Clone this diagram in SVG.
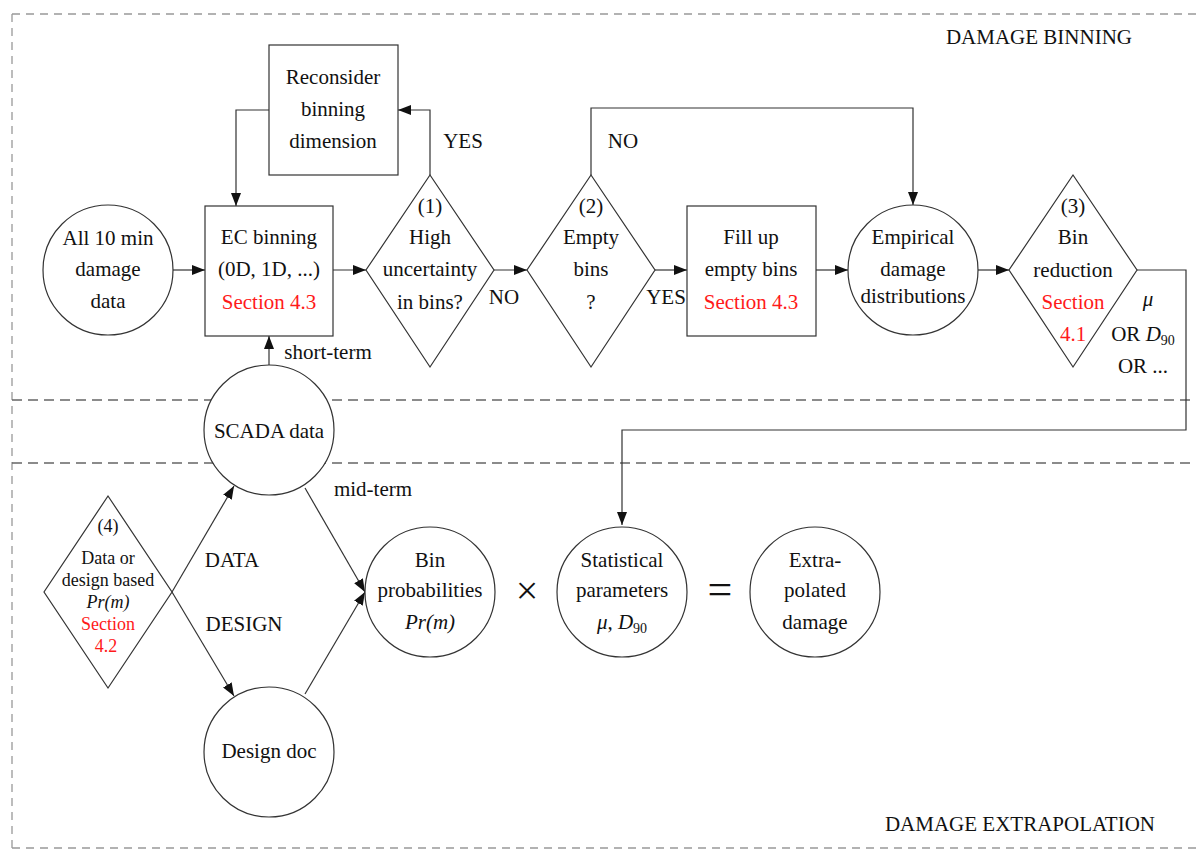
<svg xmlns="http://www.w3.org/2000/svg" width="1196" height="850" viewBox="0 0 1196 850">
<style>
.t{font-family:"Liberation Serif","Times New Roman",serif;font-size:21px;fill:#111;text-anchor:middle}
.sm{font-size:18px}
.r{fill:#ff1a1a}
.i{font-style:italic}
.s{fill:#fff;stroke:#333;stroke-width:1.2}
.c{fill:none;stroke:#333;stroke-width:1.2}
.d{fill:none;stroke:#999;stroke-width:1.3;stroke-dasharray:8 6}
.dd{fill:none;stroke:#666;stroke-width:1.5;stroke-dasharray:10 6}
</style>
<defs>
<marker id="a" markerUnits="userSpaceOnUse" markerWidth="13" markerHeight="10" refX="13" refY="5" orient="auto"><path d="M0,0 L13,5 L0,10 z" fill="#111"/></marker>
</defs>
<rect width="1196" height="850" fill="#fff"/>
<g id="frame">
<path class="d" d="M12,14 H1196 M12,14 V848 M12,848 H1196"/>
<path class="dd" d="M12,400 H1196 M12,463 H1196"/>
<text class="t" x="1039" y="44">DAMAGE BINNING</text>
<text class="t" x="1020" y="831">DAMAGE EXTRAPOLATION</text>
</g>
<g id="connectors">
<path class="c" marker-end="url(#a)" d="M173,270 H205"/>
<path class="c" marker-end="url(#a)" d="M333,270 H366"/>
<path class="c" marker-end="url(#a)" d="M494,270 H527"/>
<path class="c" marker-end="url(#a)" d="M655,270 H687"/>
<path class="c" marker-end="url(#a)" d="M816,270 H848"/>
<path class="c" marker-end="url(#a)" d="M978,270 H1009"/>
<path class="c" marker-end="url(#a)" d="M430,175 V110 H398"/>
<path class="c" marker-end="url(#a)" d="M269,110 H236 V206"/>
<path class="c" marker-end="url(#a)" d="M591,175 V108 H913 V205"/>
<path class="c" marker-end="url(#a)" d="M1137,270 H1186 V430 H622 V525"/>
<path class="c" marker-end="url(#a)" d="M269,365 V336"/>
<path class="c" marker-end="url(#a)" d="M305,488 L365,592"/>
<path class="c" marker-end="url(#a)" d="M172,592 L234,486"/>
<path class="c" marker-end="url(#a)" d="M172,592 L234,696"/>
<path class="c" marker-end="url(#a)" d="M305,694 L365,592"/>
<text class="t" x="463" y="148">YES</text>
<text class="t" x="623" y="148">NO</text>
<text class="t" x="504" y="304">NO</text>
<text class="t" x="666" y="304">YES</text>
<text class="t" x="328" y="359">short-term</text>
<text class="t" x="373" y="496">mid-term</text>
<text class="t" x="232" y="567">DATA</text>
<text class="t" x="244" y="631">DESIGN</text>
<text class="t i" x="1148" y="306">μ</text>
<text class="t" x="1143" y="341">OR <tspan class="i">D</tspan><tspan font-size="14" dy="4">90</tspan></text>
<text class="t" x="1143" y="373">OR ...</text>
</g>
<g id="n-all"><circle class="s" cx="108" cy="270" r="65"/>
<text class="t" x="108" y="245">All 10 min</text><text class="t" x="108" y="276">damage</text><text class="t" x="108" y="308">data</text></g>
<g id="n-ec"><rect class="s" x="205" y="206" width="128" height="130"/>
<text class="t" x="269" y="244">EC binning</text><text class="t" x="269" y="276">(0D, 1D, ...)</text><text class="t r" x="269" y="309">Section 4.3</text></g>
<g id="n-reconsider"><rect class="s" x="269" y="45" width="129" height="130"/>
<text class="t" x="333" y="84">Reconsider</text><text class="t" x="333" y="116">binning</text><text class="t" x="333" y="148">dimension</text></g>
<g id="n-d1"><polygon class="s" points="430,175 494,270 430,367 366,270"/>
<text class="t" x="430" y="213">(1)</text><text class="t" x="430" y="244">High</text><text class="t" x="430" y="276">uncertainty</text><text class="t" x="430" y="309">in bins?</text></g>
<g id="n-d2"><polygon class="s" points="591,175 655,270 591,367 527,270"/>
<text class="t" x="591" y="213">(2)</text><text class="t" x="591" y="244">Empty</text><text class="t" x="591" y="276">bins</text><text class="t" x="591" y="309">?</text></g>
<g id="n-fill"><rect class="s" x="687" y="206" width="129" height="130"/>
<text class="t" x="751" y="244">Fill up</text><text class="t" x="751" y="276">empty bins</text><text class="t r" x="751" y="309">Section 4.3</text></g>
<g id="n-emp"><circle class="s" cx="913" cy="270" r="65"/>
<text class="t" x="913" y="244">Empirical</text><text class="t" x="913" y="276">damage</text><text class="t" x="913" y="303">distributions</text></g>
<g id="n-d3"><polygon class="s" points="1073,175 1137,270 1073,367 1009,270"/>
<text class="t" x="1073" y="213">(3)</text><text class="t" x="1073" y="244">Bin</text><text class="t" x="1073" y="277">reduction</text><text class="t r" x="1073" y="309">Section</text><text class="t r" x="1073" y="341">4.1</text></g>
<g id="n-scada"><circle class="s" cx="269" cy="430" r="65"/>
<text class="t" x="269" y="438">SCADA data</text></g>
<g id="n-d4"><polygon class="s" points="108,496 172,592 108,688 44,592"/>
<text class="t sm" x="108" y="532">(4)</text><text class="t sm" x="108" y="564">Data or</text><text class="t sm" x="108" y="586">design based</text><text class="t sm i" x="108" y="608">Pr(m)</text><text class="t sm r" x="108" y="630">Section</text><text class="t sm r" x="106" y="652">4.2</text></g>
<g id="n-binprob"><circle class="s" cx="430" cy="592" r="65"/>
<text class="t" x="430" y="567">Bin</text><text class="t" x="430" y="597">probabilities</text><text class="t i" x="430" y="629">Pr(m)</text></g>
<text class="t" x="527" y="604" style="font-size:40px">×</text>
<g id="n-stat"><circle class="s" cx="622" cy="592" r="65"/>
<text class="t" x="622" y="567">Statistical</text><text class="t" x="622" y="597">parameters</text><text class="t" x="622" y="629"><tspan class="i">μ</tspan>, <tspan class="i">D</tspan><tspan font-size="14" dy="4">90</tspan></text></g>
<text class="t" x="720" y="604" style="font-size:44px">=</text>
<g id="n-extra"><circle class="s" cx="815" cy="592" r="65"/>
<text class="t" x="815" y="567">Extra-</text><text class="t" x="815" y="597">polated</text><text class="t" x="815" y="629">damage</text></g>
<g id="n-design"><circle class="s" cx="269" cy="752" r="65"/>
<text class="t" x="269" y="758">Design doc</text></g>
</svg>
